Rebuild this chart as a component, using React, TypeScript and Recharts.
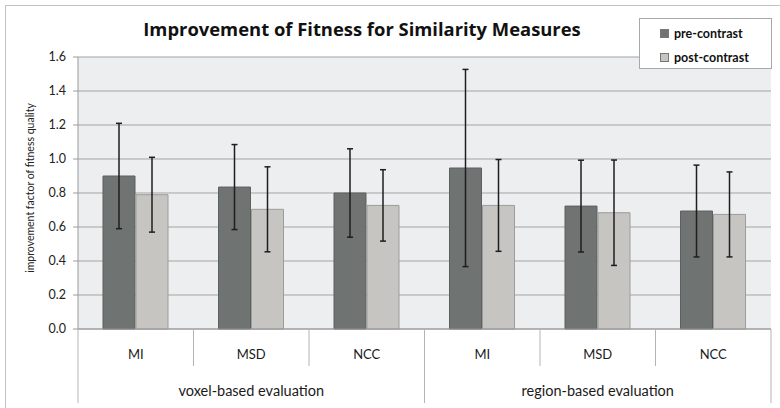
import { BarChart, Bar, XAxis, YAxis, CartesianGrid, Legend, ErrorBar } from 'recharts';

const measures = ['MI', 'MSD', 'NCC', 'MI', 'MSD', 'NCC'];
const groups = ['voxel-based evaluation', 'region-based evaluation'];
const seriesNames = ['pre-contrast', 'post-contrast'];
const preContrast = [0.9, 0.835, 0.8, 0.947, 0.723, 0.694];
const postContrast = [0.79, 0.704, 0.727, 0.727, 0.684, 0.674];
const preError = [0.31, 0.25, 0.26, 0.58, 0.27, 0.27];
const postError = [0.22, 0.25, 0.21, 0.27, 0.31, 0.25];
const yTicks = [0, 0.2, 0.4, 0.6, 0.8, 1.0, 1.2, 1.4, 1.6];

const data = measures.map((m, i) => ({
  measure: m,
  group: groups[Math.floor(i / 3)],
  pre: preContrast[i],
  post: postContrast[i],
  preErr: preError[i],
  postErr: postError[i],
}));

const FONT = 'Lato, sans-serif';
const PLOT_LEFT = 78;
const PLOT_RIGHT = 771;
const band = (PLOT_RIGHT - PLOT_LEFT) / measures.length;

function CategoryTick(props: any) {
  const { x, y, payload, index } = props;
  const left = x - band / 2;
  const groupStart = index % 3 === 0;
  return (
    <g>
      <line x1={left} x2={left} y1={y} y2={y + (groupStart ? 74 : 37)} stroke="#B4B4B4" />
      {index === measures.length - 1 && (
        <line x1={x + band / 2} x2={x + band / 2} y1={y} y2={y + 74} stroke="#B4B4B4" />
      )}
      <text x={x} y={y + 30} textAnchor="middle" fontSize={13} fill="#1a1a1a" fontFamily={FONT}>
        {payload.value}
      </text>
      {index % 3 === 1 && (
        <text x={x} y={y + 67} textAnchor="middle" fontSize={14.5} fill="#1a1a1a" fontFamily={FONT}>
          {groups[Math.floor(index / 3)]}
        </text>
      )}
    </g>
  );
}

function LegendBox(props: any) {
  const items = [...(props.payload || [])].sort(
    (a: any, b: any) => seriesNames.indexOf(a.value) - seriesNames.indexOf(b.value)
  );
  return (
    <div
      style={{
        width: 133,
        height: 51,
        boxSizing: 'border-box',
        border: '1px solid #A8A8A8',
        background: '#fff',
        paddingTop: 2,
        paddingLeft: 20,
      }}
    >
      {items.map((it: any) => (
        <div
          key={it.value}
          style={{ display: 'flex', alignItems: 'center', height: 24, fontFamily: FONT, fontWeight: 700, fontSize: 12.5, color: '#111' }}
        >
          <span
            style={{
              display: 'inline-block',
              width: 7,
              height: 7,
              background: it.color,
              border: '1px solid #777',
              marginRight: 5,
            }}
          />
          {it.value}
        </div>
      ))}
    </div>
  );
}

export default function App() {
  return (
    <div style={{ position: 'absolute', left: 0, top: 0, width: 780, height: 408, overflow: 'hidden', background: '#fff' }}>
      <div style={{ position: 'absolute', left: 5, top: 5, width: 800, height: 420, border: '1px solid #C2C2C2' }} />
      <div
        style={{
          position: 'absolute',
          left: 0,
          top: 16,
          width: 724,
          textAlign: 'center',
          fontFamily: '"Open Sans", sans-serif',
          fontWeight: 700,
          fontSize: 18.4,
          lineHeight: '26px',
          color: '#111',
        }}
      >
        Improvement of Fitness for Similarity Measures
      </div>
      <div
        style={{
          position: 'absolute',
          left: -120,
          top: 180,
          width: 300,
          textAlign: 'center',
          fontFamily: FONT,
          fontSize: 10.5,
          lineHeight: '16px',
          color: '#222',
          transform: 'rotate(-90deg)',
        }}
      >
        improvement factor of fitness quality
      </div>
      <div style={{ position: 'absolute', left: 0, top: 0 }}>
        <BarChart
          width={780}
          height={408}
          data={data}
          margin={{ top: 57, right: 780 - PLOT_RIGHT, bottom: 0, left: 18 }}
          barGap={1}
        >
          <CartesianGrid vertical={false} fill="#EDEEF0" stroke="#A3A3A3" />
          <XAxis
            dataKey="measure"
            interval={0}
            tickSize={0}
            tickMargin={0}
            height={79}
            stroke="#9A9A9A"
            tick={<CategoryTick />}
          />
          <YAxis
            width={PLOT_LEFT - 18}
            domain={[0, 1.6]}
            ticks={yTicks}
            tickFormatter={(v: number) => v.toFixed(1)}
            tickSize={5}
            tickMargin={7}
            stroke="#9A9A9A"
            tick={{ fill: '#222', fontSize: 12.5, fontFamily: FONT }}
          />
          <Legend
            layout="vertical"
            align="center"
            verticalAlign="middle"
            content={<LegendBox />}
            wrapperStyle={{ left: 639, top: 18, width: 133, height: 51 }}
          />
          <Bar dataKey="pre" name="pre-contrast" fill="#6F7372" stroke="#5C605F" barSize={32} isAnimationActive={false}>
            <ErrorBar dataKey="preErr" width={3} stroke="#1E1E1E" strokeWidth={1.5} />
          </Bar>
          <Bar dataKey="post" name="post-contrast" fill="#C6C5C2" stroke="#9C9C9C" barSize={32} isAnimationActive={false}>
            <ErrorBar dataKey="postErr" width={3} stroke="#1E1E1E" strokeWidth={1.5} />
          </Bar>
        </BarChart>
      </div>
    </div>
  );
}
